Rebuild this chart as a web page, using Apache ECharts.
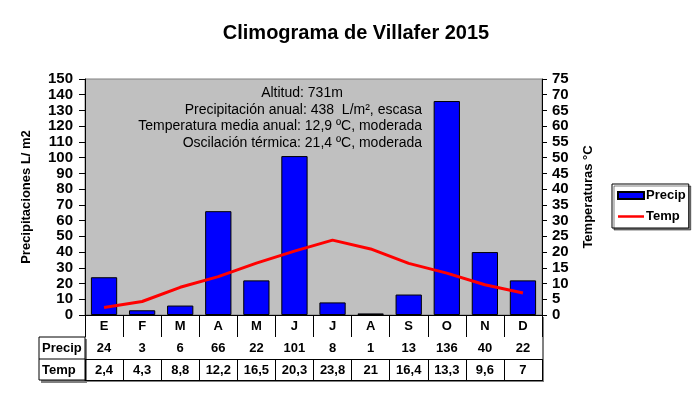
<!DOCTYPE html>
<html><head><meta charset="utf-8">
<script src="https://cdn.jsdelivr.net/npm/echarts@6/dist/echarts.min.js"></script>
<style>html,body{margin:0;padding:0;background:#fff}#c{width:700px;height:395px}</style>
</head><body><div id="c"></div>
<script>
var months = ['E','F','M','A','M','J','J','A','S','O','N','D'];
var precip = [24,3,6,66,22,101,8,1,13,136,40,22];
var temp = [2.4,4.3,8.8,12.2,16.5,20.3,23.8,21,16.4,13.3,9.6,7];
var notes = ['Altitud: 731m','Precipitación anual: 438  L/m², escasa','Temperatura media anual: 12,9 ºC, moderada','Oscilación térmica: 21,4 ºC, moderada'];
var FF = 'Liberation Sans, Arial, sans-serif';
function fmt(v){return String(v).replace('.',',');}
var chart = echarts.init(document.getElementById('c'));
var tableAxis = function(data, offset, showLabel){
  return {type:'category', data:data, position:'bottom', offset:offset, gridIndex:0,
    axisLine:{show:true, lineStyle:{color:'#000', width:1}},
    axisTick:{show:true, length:22, interval:0, lineStyle:{color:'#000'}},
    axisLabel:{show:showLabel, interval:0, margin:5, color:'#000', fontFamily:FF, fontWeight:'bold', fontSize:13},
    splitLine:{show:false}};
};
var g = [
  {type:'rect', shape:{x:41,y:339,width:46,height:44}, style:{fill:'#808080'}, z:0},
  {type:'rect', shape:{x:39,y:337,width:46,height:43}, style:{fill:'#fff', stroke:'#000', lineWidth:1}, z:1},
  {type:'line', shape:{x1:39,y1:359,x2:85,y2:359}, style:{stroke:'#000', lineWidth:1}, z:1},
  {type:'text', x:42, y:348, style:{text:'Precip', font:'bold 13px '+FF, fill:'#000', textVerticalAlign:'middle'}, z:2},
  {type:'text', x:42, y:370, style:{text:'Temp', font:'bold 13px '+FF, fill:'#000', textVerticalAlign:'middle'}, z:2},
  {type:'rect', shape:{x:87,y:317,width:457,height:65}, style:{fill:'#808080'}, z:-1},
  {type:'rect', shape:{x:85,y:315,width:457,height:65}, style:{fill:'#fff'}, z:-1}
];
notes.forEach(function(t,i){
  var first = i === 0;
  g.push({type:'text', x:first ? 302 : 422, y:93+i*16.7, style:{text:t, font:'14px '+FF, fill:'#000', textAlign:first ? 'center' : 'right', textVerticalAlign:'middle'}, z:10});
});
chart.setOption({
  animation:false,
  backgroundColor:'#fff',
  title:{text:'Climograma de Villafer 2015', left:351, top:18, textAlign:'center',
    textStyle:{fontFamily:FF, fontWeight:'bold', fontSize:20, color:'#000'}},
  grid:{left:85, right:158, top:79, bottom:80, show:true, backgroundColor:'#c0c0c0', borderColor:'#808080', borderWidth:1, z:0},
  legend:{orient:'vertical', left:612, top:184, padding:[5,3,5,5], itemGap:8, itemWidth:26, itemHeight:7,
    borderColor:'#000', borderWidth:1, backgroundColor:'#fff',
    shadowColor:'rgba(0,0,0,0.5)', shadowOffsetX:2, shadowOffsetY:2,
    textStyle:{fontFamily:FF, fontWeight:'bold', fontSize:13, color:'#000', padding:[0,0,0,-3]},
    data:[{name:'Precip', icon:'rect'},
          {name:'Temp', icon:'path://M0,0h0.05v0.05h-0.05ZM0,2.2L26,2.2L26,4.8L0,4.8ZM25.95,6.95h0.05v0.05h-0.05Z', itemStyle:{color:'#ff0000', borderWidth:0}}]},
  xAxis:[
    tableAxis(months,0,true),
    tableAxis(precip.map(String),22,true),
    tableAxis(temp.map(fmt),44,true),
    {type:'category', data:months, position:'bottom', offset:65, axisLine:{show:true,lineStyle:{color:'#000'}}, axisTick:{show:false}, axisLabel:{show:false}}
  ],
  yAxis:[
    {type:'value', min:0, max:150, interval:10, position:'left',
      name:'Precipitaciones L/ m2', nameLocation:'middle', nameGap:52, nameRotate:90,
      nameTextStyle:{fontFamily:FF, fontWeight:'bold', fontSize:13, color:'#000'},
      axisLine:{show:true, lineStyle:{color:'#000'}}, axisTick:{show:true, length:6, lineStyle:{color:'#000'}},
      axisLabel:{margin:12, color:'#000', fontFamily:FF, fontWeight:'bold', fontSize:15},
      splitLine:{show:false}},
    {type:'value', min:0, max:75, interval:5, position:'right',
      name:'Temperaturas °C', nameLocation:'middle', nameGap:40, nameRotate:90,
      nameTextStyle:{fontFamily:FF, fontWeight:'bold', fontSize:13, color:'#000'},
      axisLine:{show:true, lineStyle:{color:'#000'}}, axisTick:{show:true, length:5, lineStyle:{color:'#000'}},
      axisLabel:{margin:10, color:'#000', fontFamily:FF, fontWeight:'bold', fontSize:15},
      splitLine:{show:false}}
  ],
  series:[
    {name:'Precip', type:'bar', xAxisIndex:0, yAxisIndex:0, data:precip, barWidth:'69%',
      itemStyle:{color:'#0000ff', borderColor:'#000', borderWidth:1}, z:2},
    {name:'Temp', type:'line', xAxisIndex:0, yAxisIndex:1, data:temp, symbol:'none', showSymbol:false,
      lineStyle:{color:'#ff0000', width:3}, itemStyle:{color:'#ff0000'}, z:3}
  ],
  graphic:g
});
</script></body></html>
